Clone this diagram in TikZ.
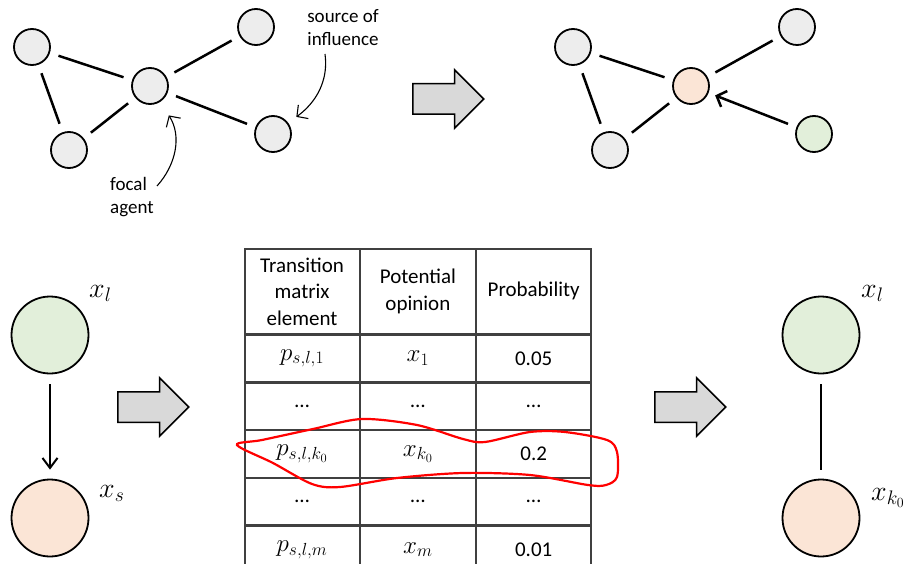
\documentclass[tikz,border=0pt]{standalone}
\usepackage{fix-cm}
\usepackage{fontspec}
\setmainfont{Carlito}
\usetikzlibrary{arrows.meta,shapes.arrows,matrix}
\definecolor{agentGray}{HTML}{EDEDED}
\definecolor{leaderGreen}{HTML}{E2EFDA}
\definecolor{focalPeach}{HTML}{FBE5D6}
\definecolor{blockGray}{HTML}{D9D9D9}
\definecolor{gridInk}{HTML}{404040}
\newcommand{\notefont}{\fontsize{19}{23}\selectfont}
\newcommand{\cellfont}{\fontsize{21}{26.5}\selectfont}
\newcommand{\cellmathfont}{\fontsize{25}{26.5}\selectfont}
\newcommand{\varfont}{\fontsize{28}{30}\selectfont}

\begin{document}
\begin{tikzpicture}[x=1pt,y=-1pt,
  agent/.style={circle,draw,line width=1.8pt,fill=agentGray,minimum size=36pt,inner sep=0pt},
  bigagent/.style={circle,draw,line width=1.8pt,minimum size=77pt,inner sep=0pt},
  tie/.style={line width=2.5pt,shorten <=9pt,shorten >=9pt},
  push/.style={single arrow,draw,line width=1.5pt,fill=blockGray,single arrow head extend=14pt,
    single arrow tip angle=90,minimum height=71pt,inner xsep=0pt,inner ysep=14.5pt,anchor=tail},
  note/.style={font=\notefont,inner sep=0pt},
  var/.style={font=\varfont,inner sep=0pt,anchor=base west},
  pointer/.style={line width=1.1pt,-{Straight Barb[length=8pt,width=17pt]}},
  cell/.style={draw=gridInk,line width=1.3pt,minimum width=114.5pt,minimum height=46.5pt,
    inner sep=0pt,outer sep=0pt,align=center,font=\cellfont,anchor=center},
  mathcell/.style={cell,font=\cellmathfont},
  headcell/.style={cell,minimum height=85pt},
  loopRed/.style={draw=red,line width=2.2pt}]
  \useasboundingbox (0,0) rectangle (912,564);

  % network before: focal agent and its neighbours
  \node[agent] (nbrA) at (32,47) {};
  \node[agent] (nbrB) at (256,27) {};
  \node[agent] (focal) at (150,86) {};
  \node[agent] (nbrD) at (69,150) {};
  \node[agent] (source) at (273,134) {};
  \draw[tie] (nbrA) -- (focal);
  \draw[tie] (nbrA) -- (nbrD);
  \draw[tie] (nbrD) -- (focal);
  \draw[tie] (focal) -- (nbrB);
  \draw[tie] (focal) -- (source);

  \node[note,align=center] (srcNote) at (343,28) {source of\\influence};
  \node[note,align=left,anchor=west] (focalNote) at (110,197) {focal\\agent};
  \coordinate (srcTail) at (325,54);
  \coordinate (focalTail) at (157,186);
  \draw[pointer,shorten >=10pt] (srcTail) .. controls (330,92) and (303,112) .. (source);
  \draw[pointer,shorten >=16pt] (focalTail) .. controls (176,165) and (182,136) .. (focal);

  \node[push] (arrTop) at (412,99) {};

  % network after
  \node[agent] (nbrA2) at (573,47) {};
  \node[agent] (nbrB2) at (797,27) {};
  \node[agent,fill=focalPeach] (focal2) at (691,86) {};
  \node[agent] (nbrD2) at (610,150) {};
  \node[agent,fill=leaderGreen] (source2) at (814,134) {};
  \draw[tie] (nbrA2) -- (focal2);
  \draw[tie] (nbrA2) -- (nbrD2);
  \draw[tie] (nbrD2) -- (focal2);
  \draw[tie] (focal2) -- (nbrB2);
  \draw[tie,shorten >=7pt,-{Straight Barb[length=8pt,width=17pt]}] (source2) -- (focal2);

  % leader -> follower
  \node[bigagent,fill=leaderGreen] (leaderL) at (50,335) {};
  \node[bigagent,fill=focalPeach] (followerL) at (50,518) {};
  \node[var] (lblL) at (89,297) {$x_l$};
  \node[var] (lblS) at (99,497) {$x_s$};
  \draw[line width=2pt,shorten <=10pt,shorten >=9pt,-{Straight Barb[length=10pt,width=15pt]}] (leaderL) -- (followerL);

  \node[push] (arrLeft) at (117,407) {};

  % transition probabilities
  \matrix (probTable) [anchor=north west,inner sep=0pt,column sep=0pt,row sep=0pt] at (244,248) {
    \node[headcell] (hElem) {Transition\\matrix\\element}; &
    \node[headcell] (hOpin) {Potential\\opinion}; &
    \node[headcell] (hProb) {Probability}; \\
    \node[mathcell] (r1e) {$p_{s,l,1}$}; & \node[mathcell] (r1o) {$x_1$}; & \node[cell] (r1p) {0.05}; \\
    \node[cell] (r2e) {…}; & \node[cell] (r2o) {…}; & \node[cell] (r2p) {…}; \\
    \node[mathcell] (r3e) {$p_{s,l,k_0}$}; & \node[mathcell] (r3o) {$x_{k_0}$}; & \node[cell] (r3p) {0.2}; \\
    \node[cell] (r4e) {…}; & \node[cell] (r4o) {…}; & \node[cell] (r4p) {…}; \\
    \node[mathcell] (r5e) {$p_{s,l,m}$}; & \node[mathcell] (r5o) {$x_m$}; & \node[cell] (r5p) {0.01}; \\
  };
  \draw[loopRed] plot[smooth cycle] coordinates {(237,445) (262,440) (313,429) (362,419)
    (417,425) (463,439) (485,442) (530,432) (565,432) (607,440) (617,452) (617,477)
    (606,485) (588,485) (530,475) (463,473) (397,478) (340,487) (312,484) (273,463)};

  \node[push] (arrRight) at (654,407) {};

  % resulting link
  \node[bigagent,fill=leaderGreen] (leaderR) at (821,335) {};
  \node[bigagent,fill=focalPeach] (adoptR) at (821,518) {};
  \node[var] (lblL2) at (861,297) {$x_l$};
  \node[var] (lblK) at (871,500) {$x_{k_0}$};
  \draw[line width=2.5pt,shorten <=10pt,shorten >=9pt] (leaderR) -- (adoptR);
\end{tikzpicture}
\end{document}
